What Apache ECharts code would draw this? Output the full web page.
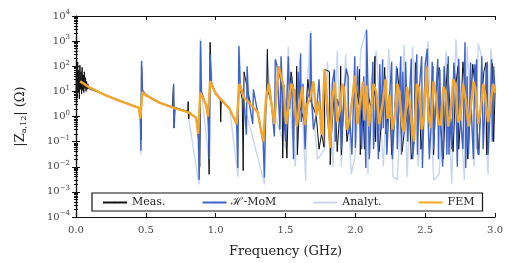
<!DOCTYPE html>
<html>
<head>
<meta charset="utf-8">
<script src="https://cdn.jsdelivr.net/npm/echarts@6/dist/echarts.min.js"></script>
<style>
  html, body { margin: 0; padding: 0; background: #fff; }
  #chart { width: 506px; height: 263px; }
</style>
</head>
<body>
<div id="chart"></div>
<script>
// legend names
var seriesNames = ['Meas.', 'ℋ-MoM', 'Analyt.', 'FEM'];

// [GHz, Ohm]
var meas = [
  [0.0, 10], [0.004, 120], [0.008, 6], [0.012, 150], [0.016, 9], [0.02, 70], [0.024, 5], [0.028, 110],
  [0.032, 12], [0.036, 60], [0.04, 8], [0.044, 90], [0.048, 11], [0.052, 45], [0.056, 9], [0.06, 60],
  [0.064, 13], [0.068, 35], [0.072, 10], [0.076, 25], [0.08, 12], [0.085, 20], [0.09, 13], [0.1, 14],
  [0.2, 7.5], [0.3, 4.5], [0.4, 2.8], [0.455, 2.2], [0.462, 0.9], [0.466, 0.12], [0.47, 90], [0.476, 9],
  [0.5, 7], [0.6, 3.6], [0.69, 2.4], [0.698, 19], [0.702, 0.35], [0.708, 2.3], [0.8, 1.6], [0.803, 3.9],
  [0.807, 0.8], [0.812, 1.5], [0.86, 0.9], [0.876, 0.15], [0.886, 0.01], [0.892, 20], [0.9, 9], [0.93, 3],
  [0.948, 0.8], [0.953, 0.005], [0.96, 900], [0.966, 26], [1.0, 8], [1.033, 4.5], [1.036, 0.6], [1.04, 4],
  [1.1, 2], [1.15, 0.5], [1.168, 20], [1.19, 5], [1.197, 0.007], [1.203, 60], [1.25, 3], [1.3, 1.5],
  [1.34, 0.1], [1.365, 5], [1.37, 470], [1.376, 10], [1.4, 3], [1.42, 0.5], [1.45, 100], [1.475, 10],
  [1.48, 0.022], [1.49, 17], [1.51, 0.022], [1.52, 3], [1.54, 60], [1.557, 12], [1.575, 2], [1.58, 100],
  [1.585, 0.03], [1.6, 2.8], [1.64, 0.5], [1.66, 30], [1.675, 5], [1.72, 1.1], [1.74, 0.05], [1.758, 0.2],
  [1.776, 0.06], [1.782, 76], [1.815, 60], [1.82, 0.012], [1.826, 0.1], [1.853, 20], [1.87, 0.04], [1.89, 2],
  [1.895, 100], [1.9, 0.03], [1.92, 12], [1.94, 0.1], [1.96, 0.8], [1.996, 40], [2.025, 3], [2.03, 75],
  [2.035, 0.03], [2.05, 10], [2.065, 0.05], [2.08, 15], [2.114, 2], [2.135, 8], [2.14, 250], [2.145, 0.1],
  [2.15, 9], [2.17, 0.04], [2.197, 3.8], [2.21, 90], [2.22, 0.2], [2.245, 7], [2.26, 0.03], [2.28, 0.8],
  [2.3, 80], [2.315, 9], [2.335, 0.04], [2.35, 0.25], [2.386, 3.8], [2.4, 0.02], [2.42, 0.1], [2.43, 140],
  [2.44, 3], [2.457, 12], [2.47, 0.05], [2.49, 0.8], [2.51, 100], [2.54, 0.34], [2.555, 100], [2.56, 0.03],
  [2.576, 7], [2.6, 90], [2.61, 0.46], [2.63, 0.02], [2.647, 9], [2.66, 120], [2.68, 1.1], [2.7, 0.04],
  [2.718, 17], [2.735, 100], [2.74, 0.05], [2.753, 0.8], [2.77, 150], [2.79, 5], [2.805, 0.02], [2.825, 2],
  [2.84, 120], [2.86, 12], [2.88, 0.03], [2.895, 1.5], [2.92, 60], [2.935, 140], [2.94, 0.03], [2.967, 2.8],
  [2.98, 130], [2.99, 0.1], [3.0, 9]
];

var hmom = [
  [0.03, 25], [0.1, 14], [0.2, 7.5], [0.3, 4.5], [0.4, 2.8], [0.455, 2.2], [0.462, 0.6], [0.465, 0.043],
  [0.469, 160], [0.474, 12], [0.5, 7], [0.6, 3.5], [0.695, 2.3], [0.699, 20], [0.703, 0.34], [0.708, 2.2],
  [0.8, 1.5], [0.86, 0.9], [0.875, 0.2], [0.882, 0.003], [0.892, 1000], [0.898, 9], [0.93, 3], [0.945, 1],
  [0.955, 0.02], [0.96, 300], [0.97, 20], [1.0, 8], [1.05, 4], [1.1, 2], [1.15, 0.5], [1.158, 0.009],
  [1.166, 630], [1.175, 20], [1.2, 6], [1.22, 0.19], [1.225, 100], [1.235, 5], [1.265, 0.5], [1.27, 12],
  [1.3, 1.5], [1.34, 0.1], [1.348, 0.0037], [1.36, 5], [1.38, 20], [1.4, 3], [1.42, 0.16], [1.427, 190],
  [1.44, 100], [1.46, 0.3], [1.468, 250], [1.48, 5], [1.5, 0.1], [1.52, 250], [1.53, 2], [1.545, 40],
  [1.557, 0.02], [1.565, 12], [1.58, 0.5], [1.59, 60], [1.6, 2.8], [1.608, 320], [1.612, 0.6], [1.625, 20],
  [1.64, 0.05], [1.655, 5], [1.675, 10], [1.68, 2100], [1.686, 5], [1.7, 0.3], [1.72, 1.1], [1.74, 30],
  [1.758, 0.2], [1.78, 76], [1.8, 1], [1.82, 0.056], [1.835, 20], [1.85, 75], [1.856, 0.1], [1.87, 5],
  [1.89, 2], [1.9, 0.05], [1.92, 12], [1.935, 80], [1.948, 40], [1.952, 0.2], [1.96, 0.8], [1.975, 0.03],
  [1.996, 250], [2.0, 0.056], [2.015, 100], [2.03, 2.8], [2.045, 0.05], [2.06, 40], [2.075, 0.009], [2.08, 2800],
  [2.09, 17], [2.1, 0.02], [2.114, 2], [2.125, 150], [2.13, 0.05], [2.15, 9], [2.165, 0.02], [2.175, 120],
  [2.185, 0.3], [2.195, 190], [2.2, 0.34], [2.215, 40], [2.225, 0.03], [2.245, 7], [2.26, 150], [2.265, 0.02],
  [2.28, 0.8], [2.295, 100], [2.3, 0.05], [2.315, 9], [2.325, 250], [2.33, 0.03], [2.34, 60], [2.35, 0.25],
  [2.36, 150], [2.375, 0.1], [2.386, 3.8], [2.4, 200], [2.41, 0.02], [2.42, 0.1], [2.44, 300], [2.445, 0.03],
  [2.457, 12], [2.475, 250], [2.48, 0.009], [2.49, 0.8], [2.5, 120], [2.515, 500], [2.52, 1], [2.53, 0.02],
  [2.54, 0.34], [2.55, 150], [2.56, 0.05], [2.576, 7], [2.59, 200], [2.595, 0.02], [2.605, 75], [2.61, 0.46],
  [2.625, 0.01], [2.635, 100], [2.647, 9], [2.655, 0.03], [2.665, 250], [2.67, 0.03], [2.68, 1.1], [2.69, 0.05],
  [2.705, 140], [2.718, 17], [2.73, 0.01], [2.74, 200], [2.753, 0.8], [2.77, 0.05], [2.785, 900], [2.79, 0.009],
  [2.8, 40], [2.81, 0.03], [2.825, 140], [2.83, 2], [2.845, 0.02], [2.855, 120], [2.86, 12], [2.868, 190],
  [2.872, 0.056], [2.885, 0.03], [2.895, 1.5], [2.905, 250], [2.915, 0.05], [2.93, 7], [2.945, 150], [2.95, 0.03],
  [2.967, 2.8], [2.975, 190], [2.98, 0.1], [2.99, 100], [3.0, 9]
];

var analyt = [
  [0.03, 25], [0.1, 14], [0.2, 7.5], [0.3, 4.5], [0.4, 2.8], [0.455, 2.2], [0.464, 0.03], [0.47, 170],
  [0.476, 10], [0.6, 3.5], [0.8, 1.5], [0.88, 0.002], [0.89, 1200], [0.9, 9], [0.955, 0.01], [0.962, 800],
  [0.975, 15], [1.1, 2], [1.16, 0.004], [1.168, 700], [1.18, 10], [1.35, 0.002], [1.365, 300], [1.4, 3],
  [1.5, 0.05], [1.52, 600], [1.53, 3], [1.57, 0.01], [1.6, 200], [1.645, 0.0028], [1.65, 5], [1.68, 2500],
  [1.69, 5], [1.73, 0.02], [1.78, 0.05], [1.8, 150], [1.84, 0.01], [1.87, 400], [1.9, 0.01], [1.93, 300],
  [1.97, 0.005], [2.0, 0.03], [2.04, 500], [2.08, 3000], [2.09, 0.005], [2.1, 10], [2.15, 400], [2.2, 0.01],
  [2.24, 500], [2.27, 0.004], [2.3, 0.003], [2.35, 700], [2.37, 0.004], [2.41, 600], [2.45, 0.01], [2.52, 1000],
  [2.56, 0.003], [2.6, 0.005], [2.65, 400], [2.69, 0.002], [2.72, 1200], [2.78, 0.003], [2.8, 600], [2.85, 0.01],
  [2.88, 800], [2.9, 300], [2.95, 0.005], [2.97, 500], [3.0, 9]
];

var fem = [
  [0.03, 25], [0.1, 14], [0.2, 7.5], [0.3, 4.5], [0.4, 2.8], [0.45, 2.2], [0.46, 0.8], [0.475, 9.5],
  [0.5, 7], [0.6, 3.5], [0.7, 2.2], [0.8, 1.5], [0.86, 0.9], [0.875, 0.2], [0.89, 9], [0.93, 3],
  [0.945, 1], [0.96, 26], [1.0, 8], [1.05, 4], [1.1, 2], [1.15, 0.5], [1.17, 20], [1.2, 6],
  [1.25, 3], [1.3, 1.5], [1.34, 0.1], [1.36, 5], [1.38, 20], [1.4, 3], [1.42, 0.5], [1.45, 100],
  [1.486, 17], [1.505, 0.5], [1.52, 2], [1.54, 20], [1.557, 12.6], [1.58, 0.4], [1.6, 2.8], [1.62, 15],
  [1.64, 0.46], [1.655, 3], [1.675, 5], [1.7, 25], [1.72, 1.1], [1.74, 4], [1.758, 0.19], [1.78, 76],
  [1.8, 3], [1.82, 0.056], [1.835, 5], [1.853, 23], [1.87, 0.6], [1.89, 2], [1.905, 20], [1.92, 12.6],
  [1.94, 0.3], [1.96, 0.83], [1.98, 6], [1.996, 42], [2.015, 0.5], [2.03, 2.8], [2.055, 25], [2.065, 0.7],
  [2.08, 17], [2.095, 0.4], [2.114, 2], [2.13, 20], [2.15, 9.3], [2.17, 0.5], [2.197, 3.8], [2.215, 30],
  [2.23, 0.8], [2.245, 7], [2.265, 0.3], [2.28, 0.83], [2.3, 20], [2.315, 9], [2.335, 0.4], [2.35, 0.25],
  [2.37, 15], [2.386, 3.8], [2.405, 0.5], [2.42, 0.1], [2.44, 20], [2.457, 12.6], [2.475, 0.3], [2.49, 0.83],
  [2.51, 100], [2.525, 1], [2.54, 0.34], [2.56, 25], [2.576, 7], [2.595, 0.5], [2.61, 0.46], [2.63, 15],
  [2.647, 9], [2.665, 0.4], [2.68, 1.1], [2.7, 30], [2.718, 17], [2.735, 0.6], [2.753, 0.83], [2.77, 20],
  [2.79, 5], [2.81, 0.4], [2.825, 2], [2.845, 25], [2.86, 12.6], [2.88, 0.5], [2.895, 1.5], [2.915, 20],
  [2.93, 7], [2.95, 0.6], [2.967, 2.8], [2.985, 20], [3.0, 9]
];

var chart = echarts.init(document.getElementById('chart'), null, { renderer: 'canvas' });
var serif = 'DejaVu Serif';

function lineSeries(name, data, color, width, z) {
  return {
    name: name,
    type: 'line',
    data: data,
    symbol: 'none',
    z: z,
    animation: false,
    lineStyle: { color: color, width: width },
    itemStyle: { color: color }
  };
}

var option = {
  backgroundColor: '#fff',
  animation: false,
  grid: { left: 76, right: 8, top: 16, bottom: 43 },
  legend: {
    data: seriesNames,
    left: 92,
    top: 193,
    itemWidth: 24,
    itemHeight: 2,
    itemGap: 36,
    padding: [4, 8, 3, 10],
    borderColor: '#111',
    borderWidth: 1.2,
    borderRadius: 0,
    textStyle: { fontFamily: serif, fontSize: 11, color: '#222' }
  },
  xAxis: [{
    type: 'value',
    min: 0, max: 3, interval: 0.5,
    name: 'Frequency (GHz)',
    nameLocation: 'middle',
    nameGap: 28,
    nameTextStyle: { fontFamily: serif, fontSize: 13, color: '#222' },
    axisLine: { lineStyle: { color: '#111', width: 1.2 } },
    axisTick: { inside: true, length: 4, lineStyle: { color: '#111' } },
    axisLabel: {
      fontFamily: serif, fontSize: 10, color: '#444', margin: 8,
      formatter: function (v) { return v.toFixed(1); }
    },
    splitLine: { show: false }
  }, {
    type: 'value', position: 'top',
    min: 0, max: 3, interval: 0.5,
    axisLine: { lineStyle: { color: '#111', width: 1.2 } },
    axisTick: { inside: true, length: 4, lineStyle: { color: '#111' } },
    axisLabel: { show: false },
    splitLine: { show: false }
  }],
  yAxis: [{
    type: 'log', logBase: 10,
    min: 1e-4, max: 1e4, interval: 1,
    name: '|Z{s|a,12}| (Ω)',
    nameLocation: 'middle',
    nameGap: 48,
    nameTextStyle: {
      fontFamily: serif, fontSize: 13, color: '#222',
      rich: { s: { fontFamily: serif, fontSize: 8, color: '#222', padding: [6, 0, 0, 0] } }
    },
    axisLine: { lineStyle: { color: '#111', width: 1.2 } },
    axisTick: { inside: true, length: 4, lineStyle: { color: '#111' } },
    minorTick: { show: true, splitNumber: 9, length: 2, lineStyle: { color: '#111' } },
    axisLabel: {
      fontFamily: serif, fontSize: 10, color: '#444', margin: 6,
      formatter: function (v) {
        var e = Math.round(Math.log10(v));
        var s = String(e).replace('-', '\u2212');
        return '10{sup|' + s + '}';
      },
      rich: { sup: { fontFamily: serif, fontSize: 7, color: '#444', padding: [0, 0, 7, 0] } }
    },
    splitLine: { show: false }
  }, {
    type: 'log', logBase: 10, position: 'right',
    min: 1e-4, max: 1e4, interval: 1,
    axisLine: { lineStyle: { color: '#111', width: 1.2 } },
    axisTick: { inside: true, length: 4, lineStyle: { color: '#111' } },
    minorTick: { show: true, splitNumber: 9, length: 2, lineStyle: { color: '#111' } },
    axisLabel: { show: false },
    splitLine: { show: false }
  }],
  series: [
    lineSeries(seriesNames[0], meas, '#111111', 1, 2),
    lineSeries(seriesNames[1], hmom, '#3f63c8', 1.4, 3),
    lineSeries(seriesNames[2], analyt, '#c8d7ef', 1.4, 1),
    lineSeries(seriesNames[3], fem, '#f4a62a', 2.4, 4)
  ]
};

chart.setOption(option);
</script>
</body>
</html>
